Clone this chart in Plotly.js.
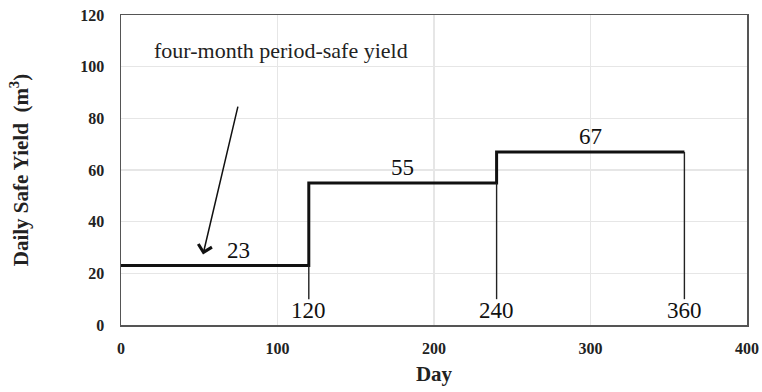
<!DOCTYPE html>
<html>
<head>
<meta charset="utf-8">
<script src="https://cdn.plot.ly/plotly-3.0.1.min.js"></script>
<style>
  html, body { margin: 0; padding: 0; background: #fff; }
  #chart { width: 762px; height: 392px; }
</style>
</head>
<body>
<div id="chart"></div>
<script>
// Four-month periods: the day each period ends and its daily safe yield
const stepDays = [0, 120, 240, 360];
const safeYield = [23, 55, 67];
const periodEnds = [120, 240, 360];
const xTicks = [0, 100, 200, 300, 400];
const yTicks = [0, 20, 40, 60, 80, 100, 120];

const serif = "Liberation Serif, Times New Roman, serif";

// step line: each yield holds until the end of its period
const stepY = safeYield.concat([safeYield[safeYield.length - 1]]);

const trace = {
  x: stepDays,
  y: stepY,
  type: 'scatter',
  mode: 'lines',
  line: { shape: 'hv', color: '#111', width: 3 },
  hoverinfo: 'skip',
  showlegend: false
};

const annotations = [];
const shapes = [];

// yield value above each level
safeYield.forEach((v, i) => {
  const mid = (stepDays[i] + stepDays[i + 1]) / 2;
  annotations.push({
    x: i === 0 ? 75 : mid, y: v, xref: 'x', yref: 'y',
    text: String(v), showarrow: false, yanchor: 'bottom', yshift: 1,
    font: { family: serif, size: 23, color: '#111' }
  });
});

// leader line from each period end down to its day label
periodEnds.forEach((d, i) => {
  shapes.push({
    type: 'line', xref: 'x', yref: 'y',
    x0: d, x1: d, y0: safeYield[i], y1: 10,
    line: { color: '#222', width: 1.4 }
  });
  annotations.push({
    x: d, y: 5.8, xref: 'x', yref: 'y',
    text: String(d), showarrow: false,
    font: { family: serif, size: 23, color: '#111' }
  });
});

// caption with an arrow pointing to the first period
annotations.push({
  x: 0.05, y: 0.885, xref: 'paper', yref: 'paper',
  xanchor: 'left', yanchor: 'middle',
  text: 'four-month period-safe yield', showarrow: false,
  font: { family: serif, size: 22, color: '#222' }
});
annotations.push({
  x: 52.4, y: 27.3, xref: 'x', yref: 'y',
  ax: 76.2, ay: 88.4, axref: 'x', ayref: 'y',
  text: ' ', showarrow: true, arrowhead: 4, arrowsize: 1.8,
  arrowwidth: 1.5, arrowcolor: '#111', standoff: 0
});

const axisFont = { family: serif, size: 16, color: '#222', weight: 'bold' };

const layout = {
  width: 762, height: 392,
  margin: { l: 121, r: 15, t: 15, b: 67 },
  paper_bgcolor: '#fff', plot_bgcolor: '#fff',
  xaxis: {
    range: [0, 400], tickvals: xTicks, ticktext: xTicks.map(String),
    showgrid: true, gridcolor: '#e6e6e6', gridwidth: 1.5,
    zeroline: false, showline: true, linecolor: '#555', linewidth: 1.5, mirror: true,
    ticks: '', tickfont: axisFont, ticklabelstandoff: 8,
    title: { text: '<b>Day</b>', font: { family: serif, size: 21, color: '#222' }, standoff: 10 }
  },
  yaxis: {
    range: [0, 120], tickvals: yTicks, ticktext: yTicks.map(String),
    showgrid: true, gridcolor: '#e6e6e6', gridwidth: 1.5,
    zeroline: false, showline: true, linecolor: '#555', linewidth: 1.5, mirror: true,
    ticks: '', tickfont: axisFont, ticklabelstandoff: 12,
    title: { text: '<b>Daily Safe Yield  (m<sup>3</sup>)</b>', font: { family: serif, size: 21, color: '#222' }, standoff: 46 }
  },
  annotations: annotations,
  shapes: shapes
};

Plotly.newPlot('chart', [trace], layout, { displayModeBar: false, staticPlot: true });
</script>
</body>
</html>
